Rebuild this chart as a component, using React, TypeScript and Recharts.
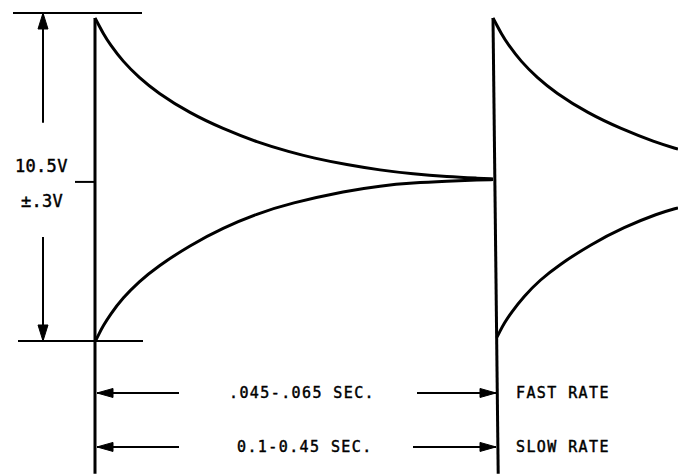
import React from "react";
import { ComposedChart, Line, XAxis, YAxis, ReferenceLine, ReferenceDot } from "recharts";

// x: time units (one period = 100), v: level units (bottom rail = 0, top rail = 100)
const topCurve1 = [
  { x: 0, v: 98.5 }, { x: 1, v: 96.2 }, { x: 2, v: 93.9 }, { x: 3.75, v: 90.4 }, { x: 7, v: 85.2 },
  { x: 11, v: 80.3 }, { x: 15.5, v: 75.8 }, { x: 23.75, v: 69.4 }, { x: 32, v: 64.7 }, { x: 40.5, v: 60.6 },
  { x: 48.75, v: 57.6 }, { x: 54.5, v: 55.8 }, { x: 63, v: 53.7 }, { x: 71.25, v: 52.1 },
  { x: 79.5, v: 50.9 }, { x: 88, v: 50.1 }, { x: 96.25, v: 49.6 }, { x: 99.5, v: 49.4 },
];
const bottomCurve1 = [
  { x: 0.25, v: 0.3 }, { x: 1, v: 2.2 }, { x: 2, v: 4.5 }, { x: 3.75, v: 8.0 }, { x: 7, v: 13.2 },
  { x: 11, v: 18.1 }, { x: 15.5, v: 22.6 }, { x: 23.75, v: 29.2 }, { x: 32, v: 34.5 }, { x: 40.5, v: 38.8 },
  { x: 48.75, v: 42.0 }, { x: 63, v: 45.8 }, { x: 71.25, v: 47.3 }, { x: 79.5, v: 48.2 },
  { x: 88, v: 48.7 }, { x: 96.25, v: 49.1 }, { x: 99.5, v: 49.2 },
];
const topCurve2 = [
  { x: 99.5, v: 98.5 }, { x: 100.5, v: 96.2 }, { x: 101.5, v: 93.9 }, { x: 103.25, v: 90.4 },
  { x: 106.5, v: 85.2 }, { x: 110.5, v: 80.3 }, { x: 115, v: 75.8 }, { x: 123.25, v: 69.4 },
  { x: 131.5, v: 64.7 }, { x: 140, v: 60.6 }, { x: 145.75, v: 58.5 },
];
const bottomCurve2 = [
  { x: 100.5, v: 1.2 }, { x: 101.25, v: 3.0 }, { x: 102.25, v: 5.3 }, { x: 104, v: 8.6 },
  { x: 107.25, v: 13.7 }, { x: 111.25, v: 18.6 }, { x: 115.75, v: 23.0 }, { x: 124, v: 29.5 },
  { x: 132.25, v: 34.7 }, { x: 140.75, v: 38.9 }, { x: 145.75, v: 40.6 },
];

// straight strokes [x1, v1, x2, v2]
const heavyStrokes = [
  [0, 98.5, 0, -40.5],
  [99.5, 98.5, 100.8, -40.5],
];
const thinStrokes = [
  [-20.5, 100, 11.75, 100],
  [-19.25, 0, 12, 0],
  [-5, 48.5, 0, 48.5],
  [-13, 100, -13, 66.5],
  [-13, 31.7, -13, 0],
  [0.5, -15.85, 21, -15.85],
  [80.5, -15.85, 100.25, -15.85],
  [0.5, -32.3, 21, -32.3],
  [79.5, -32.3, 100.25, -32.3],
];
// arrow tips: x, v, direction
const arrowTips: [number, number, string][] = [
  [-13, 100, "up"],
  [-13, 0, "down"],
  [0.5, -15.85, "left"],
  [100.25, -15.85, "right"],
  [0.5, -32.3, "left"],
  [100.25, -32.3, "right"],
];
// labels: text, x (left), v (baseline), size
const labels: [string, number, number, string][] = [
  ["10.5V", -20, 51.5, "big"],
  ["\u00b1.3V", -18.5, 40.85, "big"],
  [".045-.065 SEC.", 33.5, -17.5, "small"],
  ["0.1-0.45 SEC.", 35.5, -33.8, "small"],
  ["FAST RATE", 105.25, -17.5, "small"],
  ["SLOW RATE", 105.25, -33.8, "small"],
];

const FONT = "'DejaVu Sans Mono', monospace";

function arrowShape(dir: string) {
  return (p: any) => {
    const { cx, cy } = p;
    const L = 16;
    const W = 5;
    let pts = "";
    if (dir === "up") pts = `${cx},${cy} ${cx - W},${cy + L} ${cx + W},${cy + L}`;
    if (dir === "down") pts = `${cx},${cy} ${cx - W},${cy - L} ${cx + W},${cy - L}`;
    if (dir === "left") pts = `${cx},${cy} ${cx + L},${cy - 4.5} ${cx + L},${cy + 4.5}`;
    if (dir === "right") pts = `${cx},${cy} ${cx - L},${cy - 4.5} ${cx - L},${cy + 4.5}`;
    return <polygon points={pts} fill="#000" stroke="#000" strokeWidth={1} />;
  };
}

function textShape(t: string, size: string) {
  return (p: any) => (
    <text
      x={p.cx}
      y={p.cy}
      fontFamily={FONT}
      fontSize={size === "big" ? 17 : 15}
      letterSpacing={size === "big" ? 0.3 : 1.4}
      fill="#000"
      stroke="#000"
      strokeWidth={0.45}
      textAnchor="start"
    >
      {t}
    </text>
  );
}

export default function App() {
  return (
    <div style={{ position: "absolute", left: 0, top: 0, background: "#fff" }}>
      <ComposedChart width={678} height={474} margin={{ top: 0, right: 0, bottom: 0, left: 0 }}>
        <XAxis type="number" dataKey="x" domain={[-23.75, 145.75]} hide allowDataOverflow />
        <YAxis type="number" dataKey="v" domain={[-40.55, 103.96]} hide allowDataOverflow />
        {heavyStrokes.map((s, i) => (
          <ReferenceLine
            key={"h" + i}
            segment={[{ x: s[0], y: s[1] }, { x: s[2], y: s[3] }]}
            stroke="#000"
            strokeWidth={3}
            ifOverflow="visible"
          />
        ))}
        {thinStrokes.map((s, i) => (
          <ReferenceLine
            key={"t" + i}
            segment={[{ x: s[0], y: s[1] }, { x: s[2], y: s[3] }]}
            stroke="#000"
            strokeWidth={2}
            ifOverflow="visible"
          />
        ))}
        {[topCurve1, bottomCurve1, topCurve2, bottomCurve2].map((d, i) => (
          <Line
            key={"c" + i}
            data={d}
            dataKey="v"
            type="basis"
            stroke="#000"
            strokeWidth={3}
            dot={false}
            activeDot={false}
            isAnimationActive={false}
          />
        ))}
        {arrowTips.map((a, i) => (
          <ReferenceDot key={"a" + i} x={a[0]} y={a[1]} r={0} ifOverflow="visible" shape={arrowShape(a[2])} />
        ))}
        {labels.map((l, i) => (
          <ReferenceDot key={"l" + i} x={l[1]} y={l[2]} r={0} ifOverflow="visible" shape={textShape(l[0], l[3])} />
        ))}
      </ComposedChart>
    </div>
  );
}
